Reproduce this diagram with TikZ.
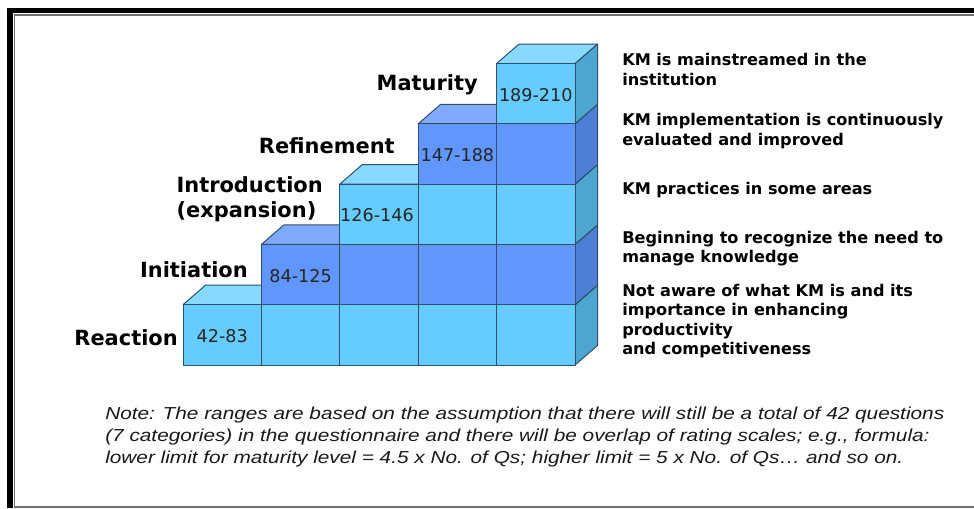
\documentclass[tikz,border=0pt]{standalone}
\usepackage{fontspec}
\setmainfont{DejaVu Sans}
\newfontfamily\notefont[FakeStretch=1.2]{Liberation Sans}
\usepackage{xcolor}

\definecolor{lightfront}{HTML}{66CCFF}
\definecolor{lighttop}{HTML}{88D9FF}
\definecolor{lightside}{HTML}{4CA6CF}
\definecolor{darkfront}{HTML}{6196FF}
\definecolor{darktop}{HTML}{80AAFF}
\definecolor{darkside}{HTML}{4D7FD6}
\definecolor{edgeblue}{HTML}{2F5066}
\definecolor{framegray}{HTML}{707070}

\tikzset{
	cubeedge/.style={draw=edgeblue, line width=0.75pt, line join=round},
	levelname/.style={anchor=east, align=left, inner sep=0pt, font=\bfseries\fontsize{15.7}{18.8}\selectfont},
	rangetext/.style={inner sep=0pt, text=black!85, font=\fontsize{13.2}{16}\selectfont},
	desctext/.style={anchor=west, align=left, inner sep=0pt, font=\bfseries\fontsize{12.1}{14.6}\selectfont},
	notetext/.style={anchor=west, align=left, inner sep=0pt, text=black!90, font=\notefont\itshape\fontsize{13}{16.5}\selectfont}
}

% one cube: left bottom corner of the front face, colour set
\newcommand{\kmcube}[3]{%
	\begin{scope}[shift={(#1,#2)}]
		\filldraw[cubeedge, fill=#3side] (78.4,0) -- (100.9,-19.5) -- (100.9,-79.8) -- (78.4,-60.3) -- cycle;
		\filldraw[cubeedge, fill=#3top] (0,-60.3) -- (22.5,-79.8) -- (100.9,-79.8) -- (78.4,-60.3) -- cycle;
		\filldraw[cubeedge, fill=#3front] (0,0) rectangle (78.4,-60.3);
	\end{scope}}

\begin{document}
\begin{tikzpicture}[x=0.75pt, y=-0.75pt]
		\useasboundingbox[fill=white] (0,0) rectangle (974,508);

		% frame
		\fill[black] (6.7,8.3) rectangle (12.7,508);
		\fill[black] (6.7,8.3) rectangle (974,13.3);
		\fill[framegray] (13.6,14) rectangle (15.4,508);
		\fill[framegray] (13.6,14) rectangle (974,15.8);
		\fill[framegray] (13.6,505.6) rectangle (974,508);

		% stairs
		\kmcube{183}{365}{light}
		\kmcube{261.4}{365}{light}
		\kmcube{339.8}{365}{light}
		\kmcube{418.2}{365}{light}
		\kmcube{496.6}{365}{light}

		\kmcube{261.4}{304.7}{dark}
		\kmcube{339.8}{304.7}{dark}
		\kmcube{418.2}{304.7}{dark}
		\kmcube{496.6}{304.7}{dark}

		\kmcube{339.8}{244.4}{light}
		\kmcube{418.2}{244.4}{light}
		\kmcube{496.6}{244.4}{light}

		\kmcube{418.2}{184.1}{dark}
		\kmcube{496.6}{184.1}{dark}

		\kmcube{496.6}{123.8}{light}

		% ranges
		\node[rangetext] (rangeReaction) at (222.2,336) {42-83};
		\node[rangetext] (rangeInitiation) at (300.6,275.7) {84-125};
		\node[rangetext] (rangeIntroduction) at (377,215.4) {126-146};
		\node[rangetext] (rangeRefinement) at (457.4,155.1) {147-188};
		\node[rangetext] (rangeMaturity) at (535.8,94.8) {189-210};

		% level names
		\node[levelname] (reaction) at (178,337.5) {Reaction};
		\node[levelname] (initiation) at (248,269.5) {Initiation};
		\node[levelname] (introduction) at (323,199) {Introduction\\(expansion)};
		\node[levelname] (refinement) at (395,145.5) {Refinement};
		\node[levelname] (maturity) at (478,84.5) {Maturity};

		% descriptions
		\node[desctext] (descMaturity) at (622,69.5) {KM is mainstreamed in the\\institution};
		\node[desctext] (descRefinement) at (622,131) {KM implementation is continuously\\evaluated and improved};
		\node[desctext] (descIntroduction) at (622,190) {KM practices in some areas};
		\node[desctext] (descInitiation) at (622,248.5) {Beginning to recognize the need to\\manage knowledge};
		\node[desctext] (descReaction) at (622,321) {Not aware of what KM is and its\\importance in enhancing\\productivity\\and competitiveness};

		% note
		\node[notetext] (note) at (105,437) {Note: The ranges are based on the assumption that there will still be a total of 42 questions\\(7 categories) in the questionnaire and there will be overlap of rating scales; e.g., formula:\\lower limit for maturity level = 4.5 x No. of Qs; higher limit = 5 x No. of Qs\ldots\ and so on.};

	\end{tikzpicture}
\end{document}
